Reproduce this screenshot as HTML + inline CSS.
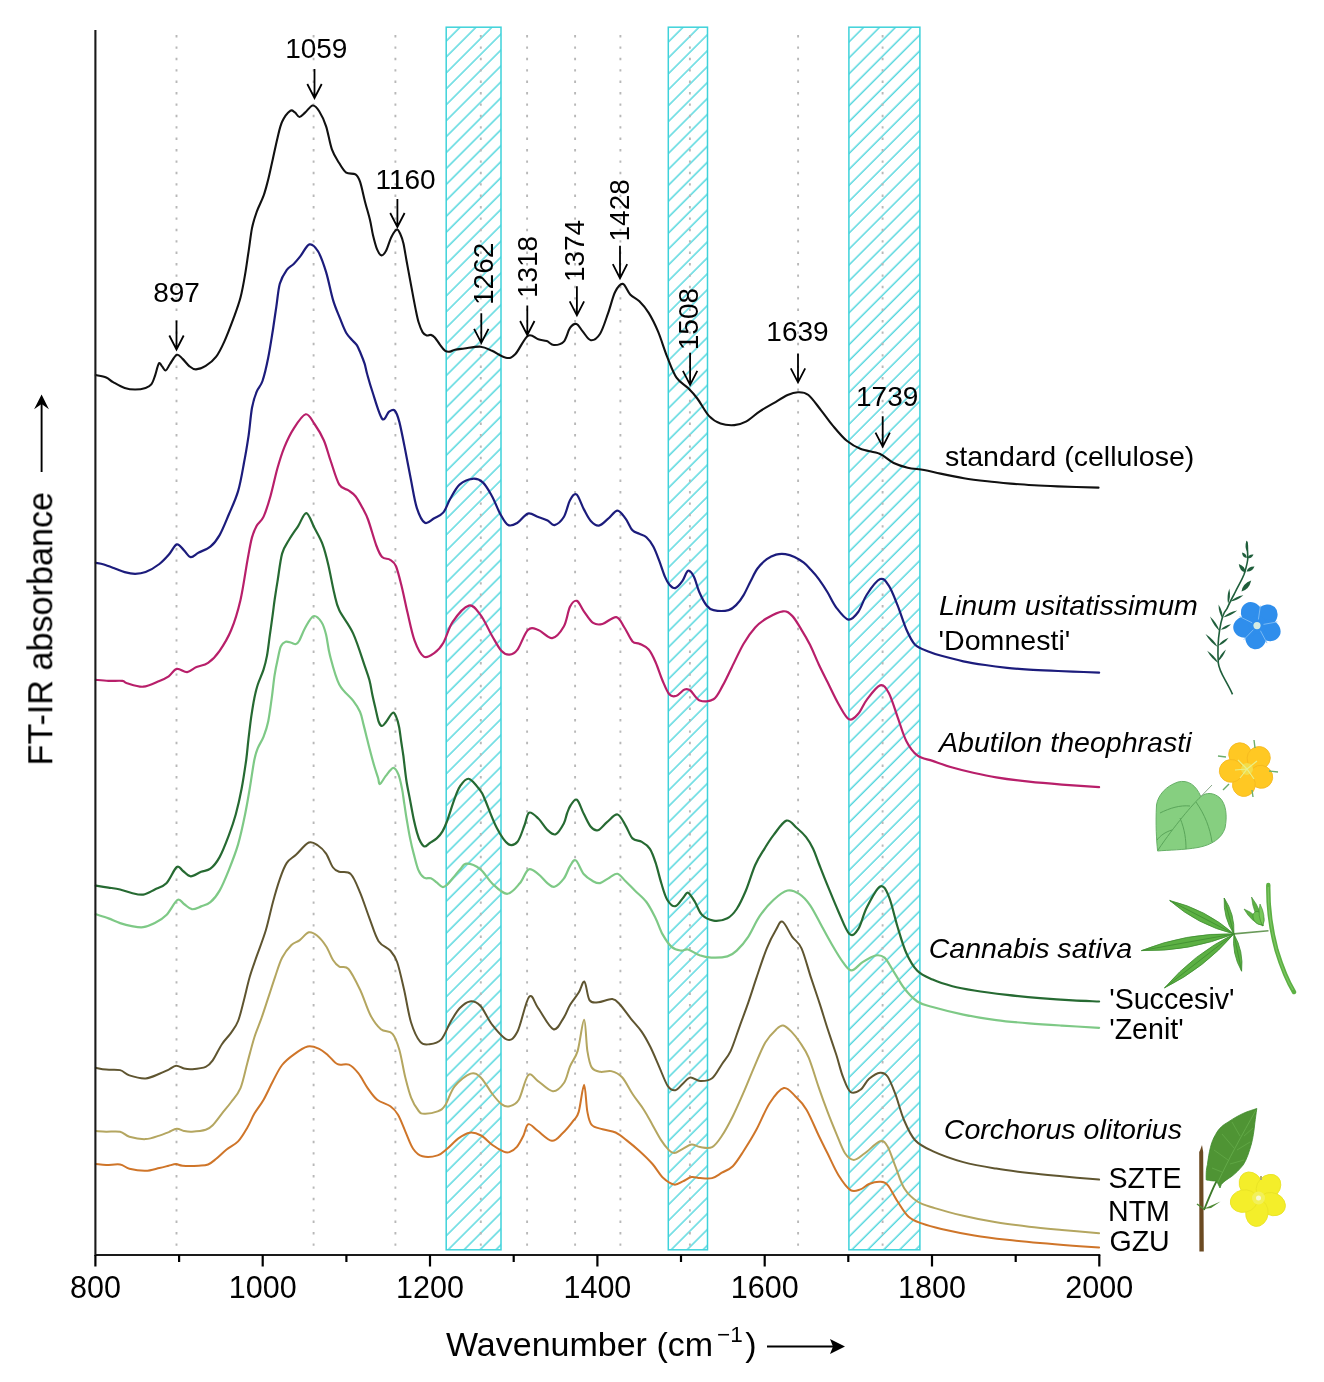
<!DOCTYPE html>
<html><head><meta charset="utf-8"><title>FT-IR spectra</title>
<style>
html,body{margin:0;padding:0;background:#fff;}
body{width:1324px;height:1382px;overflow:hidden;}
svg{display:block;}
text{font-family:"Liberation Sans", sans-serif;}
svg{-webkit-font-smoothing:antialiased;}
.t{opacity:0.999;}
</style></head><body>
<svg width="1324" height="1382" viewBox="0 0 1324 1382">
<defs>
<pattern id="hatch0" patternUnits="userSpaceOnUse" width="11.264" height="20" patternTransform="rotate(45)">
<line x1="6.65" y1="-5" x2="6.65" y2="25" stroke="#3ed2da" stroke-width="1.3"/>
</pattern>
<pattern id="hatch1" patternUnits="userSpaceOnUse" width="11.264" height="20" patternTransform="rotate(45)">
<line x1="6.65" y1="-5" x2="6.65" y2="25" stroke="#3ed2da" stroke-width="1.3"/>
</pattern>
<pattern id="hatch2" patternUnits="userSpaceOnUse" width="11.264" height="20" patternTransform="rotate(45)">
<line x1="10.5" y1="-5" x2="10.5" y2="25" stroke="#3ed2da" stroke-width="1.3"/>
</pattern>
</defs>
<rect width="1324" height="1382" fill="#fff"/>
<rect x="446.2" y="27.2" width="54.8" height="1222.6" fill="url(#hatch0)" stroke="#3ed2da" stroke-width="1.5"/>
<rect x="668.3" y="27.2" width="39.2" height="1222.6" fill="url(#hatch1)" stroke="#3ed2da" stroke-width="1.5"/>
<rect x="848.9" y="27.2" width="71.0" height="1222.6" fill="url(#hatch2)" stroke="#3ed2da" stroke-width="1.5"/>
<line x1="176.5" y1="35" x2="176.5" y2="1250" stroke="#b8b8b8" stroke-width="1.9" stroke-dasharray="2.4 9.0"/>
<line x1="313.6" y1="35" x2="313.6" y2="1250" stroke="#b8b8b8" stroke-width="1.9" stroke-dasharray="2.4 9.0"/>
<line x1="395.4" y1="35" x2="395.4" y2="1250" stroke="#b8b8b8" stroke-width="1.9" stroke-dasharray="2.4 9.0"/>
<line x1="480.8" y1="35" x2="480.8" y2="1250" stroke="#b8b8b8" stroke-width="1.9" stroke-dasharray="2.4 9.0"/>
<line x1="527.1" y1="35" x2="527.1" y2="1250" stroke="#b8b8b8" stroke-width="1.9" stroke-dasharray="2.4 9.0"/>
<line x1="575.1" y1="35" x2="575.1" y2="1250" stroke="#b8b8b8" stroke-width="1.9" stroke-dasharray="2.4 9.0"/>
<line x1="620.4" y1="35" x2="620.4" y2="1250" stroke="#b8b8b8" stroke-width="1.9" stroke-dasharray="2.4 9.0"/>
<line x1="689.9" y1="35" x2="689.9" y2="1250" stroke="#b8b8b8" stroke-width="1.9" stroke-dasharray="2.4 9.0"/>
<line x1="798.1" y1="35" x2="798.1" y2="1250" stroke="#b8b8b8" stroke-width="1.9" stroke-dasharray="2.4 9.0"/>
<line x1="882.6" y1="35" x2="882.6" y2="1250" stroke="#b8b8b8" stroke-width="1.9" stroke-dasharray="2.4 9.0"/>
<path d="M95.8,375.1 C97.5,375.5 103.3,376.3 106.2,377.5 C109.1,378.7 110.0,380.4 113.1,382.1 C116.2,383.8 121.0,386.7 124.7,387.9 C128.4,389.1 131.6,389.5 135.1,389.5 C138.6,389.5 142.9,388.8 145.6,387.9 C148.3,387.0 149.8,386.3 151.3,384.4 C152.8,382.5 153.6,379.8 154.8,376.3 C156.1,372.8 157.6,365.3 158.8,363.6 C160.0,361.9 160.7,364.9 161.8,366.0 C163.0,367.1 164.3,370.8 165.7,370.5 C167.1,370.2 168.2,366.6 170.0,364.0 C171.8,361.4 174.7,355.7 176.8,354.8 C178.9,353.9 180.5,357.0 182.6,358.9 C184.7,360.8 187.3,364.6 189.5,366.3 C191.7,368.1 193.3,369.5 196.0,369.4 C198.7,369.3 202.3,368.0 205.7,365.9 C209.1,363.8 213.1,360.7 216.2,356.6 C219.3,352.6 221.4,348.0 224.3,341.6 C227.2,335.2 230.8,325.7 233.5,318.4 C236.2,311.1 238.6,304.9 240.5,297.6 C242.4,290.3 243.8,282.1 245.1,274.4 C246.4,266.7 247.4,259.0 248.6,251.3 C249.8,243.6 250.7,234.7 252.0,228.1 C253.3,221.5 254.8,217.3 256.7,211.9 C258.6,206.5 261.7,201.1 263.6,195.7 C265.5,190.3 266.6,185.7 268.2,179.5 C269.8,173.3 271.3,165.6 272.9,158.7 C274.4,151.8 276.0,144.1 277.5,137.9 C279.0,131.7 280.0,126.2 282.1,121.7 C284.2,117.2 288.1,112.3 290.2,110.8 C292.3,109.2 293.3,111.4 294.9,112.4 C296.4,113.4 297.8,117.0 299.5,117.0 C301.2,117.0 303.1,114.3 305.3,112.4 C307.5,110.5 310.4,105.7 312.7,105.5 C315.0,105.3 317.0,107.8 319.2,111.3 C321.4,114.8 324.0,119.9 326.1,126.3 C328.2,132.7 329.7,143.2 331.9,149.4 C334.1,155.6 336.9,159.4 339.3,163.3 C341.7,167.2 343.5,170.8 346.2,172.6 C348.9,174.4 353.2,172.8 355.5,174.4 C357.8,176.0 358.6,177.6 360.1,181.9 C361.6,186.2 363.1,194.1 364.7,200.4 C366.3,206.8 368.6,214.2 370.0,220.0 C371.4,225.8 371.8,230.3 373.0,235.2 C374.2,240.1 375.7,246.0 377.1,249.4 C378.5,252.8 380.1,255.2 381.6,255.4 C383.1,255.6 384.6,253.4 386.2,250.4 C387.8,247.4 389.5,240.7 391.3,237.2 C393.1,233.7 395.3,230.1 396.8,229.6 C398.3,229.1 399.3,231.9 400.4,234.2 C401.5,236.5 402.4,238.9 403.4,243.3 C404.4,247.7 405.5,254.9 406.5,260.5 C407.5,266.1 408.5,271.3 409.5,276.7 C410.5,282.1 411.5,287.5 412.5,292.9 C413.5,298.3 414.6,304.2 415.6,309.1 C416.6,314.0 417.4,318.4 418.6,322.3 C419.8,326.2 421.4,330.2 422.7,332.4 C424.0,334.6 425.3,335.0 426.7,335.4 C428.1,335.8 429.4,334.5 430.8,334.9 C432.2,335.2 433.3,335.9 434.8,337.5 C436.3,339.1 438.2,342.4 439.9,344.6 C441.6,346.8 443.2,349.4 444.9,350.6 C446.6,351.8 448.3,351.8 450.0,351.6 C451.7,351.5 452.6,350.2 455.0,349.7 C457.4,349.2 460.1,349.0 464.3,348.5 C468.6,348.0 475.9,346.3 480.5,346.7 C485.1,347.1 487.8,348.9 492.0,350.8 C496.2,352.7 502.0,357.2 505.9,357.8 C509.8,358.4 511.5,358.0 515.2,354.3 C518.9,350.6 524.0,338.3 527.9,335.8 C531.8,333.3 535.1,338.4 538.3,339.3 C541.4,340.2 544.2,340.2 546.8,341.1 C549.4,342.1 551.0,344.9 553.8,345.0 C556.6,345.1 561.1,344.5 563.8,341.6 C566.5,338.8 567.9,330.8 570.0,327.9 C572.1,325.0 574.4,323.4 576.5,324.0 C578.6,324.6 580.3,328.7 582.7,331.4 C585.1,334.1 587.9,339.8 590.8,340.2 C593.7,340.6 597.2,338.2 600.1,333.7 C603.0,329.1 605.7,319.8 608.2,312.9 C610.7,305.9 612.7,296.8 615.1,292.0 C617.5,287.2 620.3,283.5 622.8,283.9 C625.3,284.3 627.4,291.5 630.2,294.4 C633.0,297.3 636.3,298.2 639.4,301.3 C642.5,304.4 645.6,307.9 648.7,312.9 C651.8,317.9 654.9,324.1 658.0,331.4 C661.1,338.7 664.1,349.2 667.2,356.9 C670.3,364.6 673.0,372.5 676.5,377.7 C680.0,382.9 684.6,384.6 688.1,388.1 C691.6,391.6 693.8,393.9 697.3,398.5 C700.8,403.1 705.0,411.7 708.9,415.9 C712.8,420.1 716.2,422.0 720.5,423.5 C724.8,425.0 730.2,425.4 734.4,425.1 C738.6,424.8 741.7,424.0 745.9,421.7 C750.1,419.4 755.2,414.4 759.8,411.3 C764.4,408.2 769.1,405.8 773.7,403.1 C778.3,400.4 783.6,396.8 787.6,395.0 C791.6,393.2 794.5,392.3 798.0,392.3 C801.5,392.3 804.5,392.0 808.4,395.0 C812.2,398.0 817.0,405.2 821.1,410.3 C825.2,415.4 828.5,420.5 832.8,425.6 C837.1,430.7 842.1,436.9 846.8,440.8 C851.5,444.7 855.4,446.9 860.9,449.0 C866.4,451.1 874.1,451.4 879.6,453.7 C885.1,456.0 889.0,460.7 893.7,463.0 C898.4,465.3 902.6,466.5 907.7,467.7 C912.8,468.9 918.6,469.0 924.1,470.0 C929.6,471.0 933.9,472.2 940.5,473.6 C947.1,475.0 956.1,476.9 963.9,478.2 C971.7,479.5 979.5,480.4 987.3,481.3 C995.1,482.2 1002.9,482.9 1010.7,483.6 C1018.5,484.3 1026.3,484.8 1034.1,485.3 C1041.9,485.8 1046.8,486.0 1057.5,486.4 C1068.2,486.8 1091.7,487.4 1098.5,487.6" fill="none" stroke="#111111" stroke-width="2.1" stroke-linejoin="round" stroke-linecap="round"/>
<path d="M95.8,562.9 C97.2,563.2 100.6,563.5 103.9,564.5 C107.2,565.5 112.0,567.4 115.5,568.7 C119.0,570.0 121.4,571.2 124.7,572.1 C128.0,573.0 131.6,573.8 135.1,573.8 C138.6,573.8 141.5,573.7 145.6,572.1 C149.7,570.5 155.6,566.9 159.4,564.0 C163.2,561.1 165.8,558.1 168.7,554.8 C171.6,551.5 174.3,545.2 176.8,544.4 C179.3,543.6 181.5,548.0 183.8,550.1 C186.1,552.2 188.2,556.7 190.7,557.1 C193.2,557.5 195.5,554.2 198.8,552.5 C202.1,550.8 206.9,549.6 210.4,546.7 C213.9,543.8 216.5,540.5 219.6,535.1 C222.7,529.7 225.8,521.6 228.9,514.3 C232.0,507.0 235.6,499.6 238.1,491.1 C240.6,482.6 242.2,472.6 243.9,463.3 C245.7,454.1 247.2,444.9 248.6,435.6 C249.9,426.4 250.7,415.1 252.0,407.8 C253.3,400.5 254.9,396.1 256.7,391.6 C258.4,387.1 260.6,386.6 262.5,381.0 C264.4,375.4 266.5,366.3 268.2,357.8 C269.9,349.3 271.5,338.5 272.9,330.0 C274.2,321.5 275.1,314.6 276.3,306.9 C277.5,299.2 278.1,289.9 279.8,283.7 C281.6,277.5 284.5,273.1 286.8,269.8 C289.1,266.5 291.4,266.3 293.7,264.0 C296.0,261.7 298.0,259.2 300.6,255.9 C303.2,252.6 306.5,245.2 309.4,244.4 C312.3,243.6 315.2,246.7 318.0,251.3 C320.8,255.9 323.6,264.0 326.1,272.1 C328.6,280.2 330.7,292.2 333.0,299.9 C335.3,307.6 337.8,312.9 340.0,318.4 C342.2,323.9 344.1,329.2 346.3,333.0 C348.5,336.8 351.2,338.9 353.0,341.0 C354.8,343.1 355.8,343.4 357.0,345.4 C358.2,347.4 359.2,349.9 360.5,353.0 C361.8,356.1 363.5,360.3 364.6,363.7 C365.7,367.1 365.7,368.9 367.0,373.5 C368.3,378.1 369.7,383.5 372.2,391.0 C374.7,398.5 379.3,415.2 382.1,418.7 C384.9,422.1 386.9,413.0 389.0,411.7 C391.1,410.4 393.1,408.9 394.8,410.6 C396.5,412.3 397.7,415.6 399.4,422.1 C401.1,428.7 403.3,440.2 405.2,449.9 C407.1,459.5 409.1,470.4 411.0,480.0 C412.9,489.6 414.5,500.7 416.8,507.8 C419.1,514.9 422.0,521.1 424.9,522.8 C427.8,524.5 431.1,519.9 434.2,518.2 C437.3,516.5 440.7,515.7 443.4,512.4 C446.1,509.1 447.7,503.1 450.4,498.5 C453.1,493.9 455.9,487.9 459.6,484.6 C463.3,481.3 468.5,479.2 472.4,478.8 C476.3,478.4 479.5,479.4 482.8,482.3 C486.1,485.2 489.1,491.0 492.0,496.2 C494.9,501.4 497.4,508.8 500.1,513.6 C502.8,518.4 505.3,523.6 508.2,525.1 C511.1,526.6 514.2,524.7 517.5,522.8 C520.8,520.9 524.4,514.6 527.9,513.6 C531.4,512.6 535.0,515.9 538.3,517.0 C541.6,518.1 544.9,519.1 547.6,520.5 C550.3,521.9 551.8,525.7 554.5,525.1 C557.2,524.5 561.2,521.1 563.8,517.0 C566.4,512.9 567.9,504.0 570.0,500.2 C572.1,496.4 574.2,492.9 576.5,494.4 C578.8,495.9 581.5,505.0 583.9,509.4 C586.3,513.8 588.3,518.3 590.8,521.0 C593.3,523.7 596.0,526.0 598.9,525.6 C601.8,525.2 605.1,521.2 608.2,518.7 C611.3,516.2 614.6,510.6 617.5,510.6 C620.4,510.6 623.1,515.4 625.6,518.7 C628.1,522.0 630.2,527.8 632.5,530.3 C634.8,532.8 637.1,532.6 639.4,533.8 C641.7,534.9 644.1,535.1 646.4,537.2 C648.7,539.3 651.2,542.6 653.3,546.5 C655.4,550.4 657.2,555.4 659.1,560.4 C661.0,565.4 663.2,572.5 664.9,576.6 C666.6,580.7 667.8,582.8 669.5,584.7 C671.2,586.6 673.2,588.7 675.3,588.1 C677.4,587.5 680.2,584.1 682.3,581.2 C684.4,578.3 686.2,571.6 688.1,570.8 C690.0,570.0 691.9,572.9 693.8,576.6 C695.7,580.3 697.5,588.0 699.6,592.8 C701.7,597.6 704.3,602.6 706.6,605.5 C708.9,608.4 709.8,609.3 713.5,610.1 C717.2,610.9 724.7,611.1 728.6,610.1 C732.5,609.1 734.2,606.9 736.7,604.4 C739.2,601.9 741.3,599.0 743.6,595.1 C745.9,591.2 748.3,585.6 750.6,581.2 C752.9,576.8 754.8,572.2 757.5,568.5 C760.2,564.8 763.7,561.5 766.8,559.2 C769.9,556.9 772.9,555.5 776.0,554.6 C779.1,553.8 782.2,553.7 785.3,554.1 C788.4,554.5 791.4,555.5 794.5,556.9 C797.6,558.3 801.1,560.6 803.8,562.7 C806.5,564.8 808.2,566.9 810.7,569.6 C813.2,572.3 816.0,575.3 818.8,579.1 C821.6,582.9 824.6,587.5 827.5,592.3 C830.4,597.0 832.8,603.0 836.3,607.6 C839.8,612.2 844.6,618.9 848.3,619.6 C851.9,620.3 855.1,616.2 858.2,612.0 C861.3,607.8 863.2,600.0 866.9,594.5 C870.5,589.0 876.5,580.6 880.1,579.1 C883.8,577.6 885.9,581.3 888.8,585.7 C891.7,590.1 894.7,598.1 897.6,605.4 C900.5,612.7 903.5,622.9 906.4,629.5 C909.3,636.1 911.5,641.1 915.1,644.8 C918.8,648.4 923.9,649.6 928.3,651.4 C932.7,653.2 935.6,654.1 941.4,655.8 C947.2,657.4 956.0,659.8 963.3,661.3 C970.6,662.8 977.9,663.9 985.2,665.0 C992.5,666.1 999.8,667.0 1007.1,667.8 C1014.4,668.6 1021.7,669.1 1029.0,669.6 C1036.3,670.1 1043.6,670.4 1050.9,670.7 C1058.2,671.0 1064.8,671.3 1072.8,671.6 C1080.8,671.9 1094.7,672.4 1099.1,672.6" fill="none" stroke="#1c1c7c" stroke-width="2.2" stroke-linejoin="round" stroke-linecap="round"/>
<path d="M95.8,679.8 C97.9,680.0 104.1,680.7 108.5,680.9 C112.9,681.1 119.3,680.5 122.4,680.9 C125.5,681.3 123.5,682.2 127.0,683.2 C130.5,684.2 137.8,687.1 143.2,686.7 C148.6,686.3 155.2,682.6 159.4,680.9 C163.7,679.2 165.8,678.3 168.7,676.3 C171.6,674.3 173.7,669.6 176.8,668.9 C179.9,668.2 183.9,672.4 187.2,672.1 C190.5,671.8 193.0,668.5 196.5,667.0 C200.0,665.5 204.2,665.6 208.1,662.9 C211.9,660.2 215.8,656.3 219.6,650.8 C223.4,645.3 227.7,638.5 231.2,630.0 C234.7,621.5 237.8,611.5 240.5,599.9 C243.2,588.3 245.5,571.0 247.4,560.6 C249.3,550.2 250.4,543.2 252.0,537.4 C253.6,531.6 254.8,529.3 256.7,525.8 C258.6,522.3 261.3,521.6 263.6,516.6 C265.9,511.6 268.3,503.8 270.6,495.7 C272.9,487.6 275.2,476.1 277.5,468.0 C279.8,459.9 281.7,453.7 284.4,447.1 C287.1,440.5 290.1,434.1 293.7,428.6 C297.2,423.1 302.2,415.1 305.7,414.3 C309.2,413.5 311.5,419.7 314.5,424.0 C317.5,428.3 321.1,434.0 323.8,440.2 C326.5,446.4 328.1,453.6 330.7,461.0 C333.3,468.4 336.3,479.7 339.3,484.6 C342.3,489.5 345.8,488.5 348.5,490.4 C351.2,492.3 353.2,493.3 355.5,496.2 C357.8,499.1 360.3,503.8 362.4,507.8 C364.5,511.8 365.9,513.7 368.2,520.0 C370.5,526.3 374.0,539.3 376.3,545.5 C378.6,551.7 379.8,554.6 382.1,557.0 C384.4,559.4 387.9,558.2 390.2,559.8 C392.5,561.3 394.1,561.8 396.0,566.3 C397.9,570.8 399.9,579.4 401.8,587.1 C403.7,594.8 405.4,603.7 407.5,612.6 C409.6,621.5 411.8,633.1 414.5,640.4 C417.2,647.7 420.5,654.5 423.8,656.6 C427.1,658.7 430.9,655.4 434.2,653.1 C437.5,650.8 440.3,647.9 443.4,642.7 C446.5,637.5 448.4,628.1 452.7,621.9 C456.9,615.7 464.3,606.8 468.9,605.6 C473.5,604.4 476.6,609.9 480.5,614.9 C484.4,619.9 488.5,629.7 492.0,635.7 C495.5,641.7 498.4,647.6 501.3,650.8 C504.2,654.0 506.7,654.9 509.4,654.7 C512.1,654.5 514.4,653.7 517.5,649.6 C520.6,645.5 524.4,633.3 527.9,630.0 C531.4,626.7 534.2,628.6 538.3,630.0 C542.3,631.4 548.0,638.7 552.2,638.1 C556.5,637.5 560.8,631.7 563.8,626.5 C566.8,621.3 567.8,611.0 570.0,606.7 C572.2,602.4 574.6,600.1 576.9,600.9 C579.2,601.7 581.2,607.6 583.9,611.3 C586.6,615.0 590.0,620.8 593.1,622.9 C596.2,625.0 598.5,625.0 602.4,624.0 C606.3,623.0 612.6,616.5 616.3,617.1 C620.0,617.7 621.7,623.5 624.4,627.5 C627.1,631.5 630.0,638.7 632.5,641.4 C635.0,644.1 636.7,642.4 639.4,643.7 C642.1,645.1 646.0,646.4 648.7,649.5 C651.4,652.6 653.3,657.0 655.6,662.2 C657.9,667.4 660.3,675.3 662.6,680.7 C664.9,686.1 667.2,692.1 669.5,694.6 C671.8,697.1 674.0,696.6 676.5,695.8 C679.0,694.9 682.3,690.4 684.6,689.5 C686.9,688.6 687.9,688.7 690.4,690.5 C692.9,692.3 695.8,698.9 699.6,700.4 C703.5,701.9 709.6,701.8 713.5,699.3 C717.4,696.8 719.7,690.8 722.8,685.4 C725.9,680.0 728.5,673.8 732.0,666.9 C735.5,660.0 739.7,650.3 743.6,643.7 C747.5,637.1 751.3,631.8 755.2,627.5 C759.1,623.2 762.2,620.9 766.8,618.2 C771.4,615.5 778.8,611.7 783.0,611.3 C787.2,610.9 789.1,612.8 792.2,615.9 C795.3,619.0 798.5,625.0 801.5,629.8 C804.5,634.6 807.1,639.0 810.0,644.8 C812.9,650.6 815.9,658.3 818.8,664.5 C821.7,670.7 824.2,675.5 827.5,682.1 C830.8,688.7 834.9,697.8 838.5,704.0 C842.1,710.2 845.7,717.7 849.0,719.3 C852.3,720.9 855.2,717.1 858.2,713.8 C861.2,710.5 863.2,704.3 866.9,699.6 C870.5,694.9 876.5,686.5 880.1,685.4 C883.8,684.3 885.9,687.7 888.8,693.0 C891.7,698.3 894.7,709.1 897.6,717.1 C900.5,725.1 903.1,734.8 906.4,741.2 C909.7,747.6 912.9,752.1 917.3,755.4 C921.7,758.7 926.8,758.9 932.6,760.9 C938.5,762.9 945.5,765.5 952.4,767.5 C959.3,769.5 967.0,771.4 974.3,773.0 C981.6,774.6 987.1,775.8 996.2,777.3 C1005.3,778.8 1018.0,780.5 1029.0,781.7 C1040.0,782.9 1050.2,783.7 1061.9,784.6 C1073.6,785.5 1092.9,786.8 1099.1,787.2" fill="none" stroke="#b81f6a" stroke-width="2.2" stroke-linejoin="round" stroke-linecap="round"/>
<path d="M95.8,885.6 C97.9,885.9 104.5,887.0 108.5,887.6 C112.5,888.2 116.2,888.6 120.1,889.5 C124.0,890.4 127.8,892.1 131.7,893.0 C135.5,893.9 139.3,895.2 143.2,894.6 C147.0,894.0 150.9,891.4 154.8,889.5 C158.7,887.6 162.7,887.0 166.4,883.2 C170.1,879.5 174.0,869.0 176.8,867.0 C179.6,865.0 180.7,869.5 183.0,871.0 C185.3,872.5 187.7,876.2 190.7,876.3 C193.7,876.4 197.8,873.0 201.1,871.7 C204.4,870.4 207.3,871.1 210.4,868.7 C213.5,866.3 216.5,862.7 219.6,857.1 C222.7,851.5 226.2,842.2 228.9,835.1 C231.6,828.0 233.7,822.0 235.8,814.3 C237.9,806.6 239.9,797.8 241.6,788.8 C243.3,779.8 245.0,768.3 246.2,760.0 C247.3,751.7 247.6,746.3 248.5,738.9 C249.4,731.5 250.4,722.5 251.4,715.7 C252.4,709.0 253.2,703.6 254.3,698.4 C255.4,693.2 256.2,689.3 257.8,684.5 C259.4,679.7 262.1,674.2 263.6,669.4 C265.1,664.6 265.9,661.4 267.0,655.6 C268.1,649.8 268.9,641.7 269.9,634.7 C270.9,627.8 272.0,619.7 272.8,613.9 C273.6,608.1 273.8,605.4 274.6,600.0 C275.4,594.6 276.2,589.1 277.5,581.4 C278.8,573.7 280.2,560.5 282.1,553.6 C284.0,546.7 286.4,544.3 289.1,539.7 C291.8,535.1 295.4,530.2 298.3,525.8 C301.2,521.4 303.7,512.7 306.4,513.1 C309.1,513.5 311.8,522.9 314.5,528.1 C317.2,533.3 320.3,538.2 322.6,544.4 C324.9,550.6 326.5,557.1 328.4,565.2 C330.3,573.3 332.4,585.5 334.2,593.0 C336.0,600.5 336.1,603.6 339.3,610.3 C342.5,617.0 348.9,624.1 353.1,633.4 C357.3,642.6 362.0,658.0 364.7,665.8 C367.4,673.6 368.1,675.2 369.4,680.0 C370.7,684.8 371.3,689.7 372.3,694.5 C373.3,699.3 374.5,704.3 375.6,708.9 C376.7,713.5 377.7,719.1 378.8,722.0 C379.9,724.9 380.9,726.0 382.1,726.0 C383.3,726.0 384.2,724.2 386.0,722.0 C387.8,719.8 390.9,713.8 392.6,712.9 C394.3,712.0 395.1,714.5 396.2,716.9 C397.3,719.2 398.3,722.9 399.1,727.0 C399.9,731.1 400.5,736.7 401.2,741.5 C401.9,746.3 402.5,749.6 403.4,756.0 C404.2,762.4 405.2,772.6 406.3,780.0 C407.4,787.4 408.9,793.8 410.1,800.2 C411.3,806.7 412.5,813.3 413.6,818.7 C414.8,824.1 415.9,828.7 417.0,832.6 C418.1,836.5 419.2,839.6 420.5,841.9 C421.8,844.2 423.1,846.3 424.6,846.5 C426.2,846.7 427.8,844.4 429.8,843.0 C431.8,841.6 434.6,840.3 436.7,838.4 C438.8,836.5 440.8,834.3 442.5,831.4 C444.2,828.5 445.2,826.2 447.1,821.0 C449.0,815.8 452.0,806.0 454.1,800.2 C456.2,794.4 457.5,789.9 460.0,786.3 C462.5,782.7 465.5,778.0 468.9,778.8 C472.3,779.5 477.8,787.3 480.5,790.8 C483.2,794.3 482.4,793.8 485.1,800.0 C487.8,806.2 492.9,820.5 496.7,827.8 C500.5,835.1 504.7,841.7 508.2,844.0 C511.7,846.3 514.8,844.8 517.5,841.7 C520.2,838.6 522.5,830.3 524.4,825.5 C526.3,820.7 526.8,813.9 529.1,812.7 C531.4,811.5 535.2,815.6 538.3,818.5 C541.4,821.4 544.7,827.5 547.6,830.1 C550.5,832.7 553.0,835.4 555.7,834.3 C558.4,833.2 561.9,827.0 563.8,823.5 C565.7,820.0 565.9,816.5 567.0,813.5 C568.1,810.5 568.9,807.8 570.5,805.5 C572.1,803.2 574.7,798.3 576.9,799.7 C579.1,801.1 581.6,809.6 583.9,814.1 C586.2,818.6 588.5,824.1 590.8,826.8 C593.1,829.5 595.1,831.1 597.8,830.3 C600.5,829.5 603.7,824.8 607.0,822.2 C610.3,819.6 614.4,813.9 617.5,814.5 C620.6,815.1 623.1,821.6 625.6,825.6 C628.1,829.6 629.8,835.7 632.5,838.4 C635.2,841.1 638.9,840.2 641.8,841.9 C644.7,843.6 647.6,845.3 649.9,848.8 C652.2,852.3 653.7,856.9 655.6,862.7 C657.5,868.5 659.5,877.3 661.4,883.5 C663.3,889.7 664.9,895.9 667.2,899.7 C669.5,903.5 672.6,906.6 675.3,906.2 C678.0,905.8 681.3,899.6 683.4,897.4 C685.5,895.2 686.2,892.0 688.1,892.8 C690.0,893.6 692.7,898.3 695.0,902.0 C697.3,905.7 698.8,911.7 701.9,914.8 C705.0,917.9 709.2,920.0 713.5,920.6 C717.8,921.2 723.5,920.1 727.4,918.2 C731.3,916.3 733.6,913.6 736.7,909.0 C739.8,904.4 742.8,897.8 745.9,890.5 C749.0,883.2 752.1,872.0 755.2,865.0 C758.3,858.0 761.3,853.8 764.4,848.8 C767.5,843.8 770.0,839.6 773.7,834.9 C777.4,830.2 782.5,821.8 786.4,820.6 C790.3,819.5 793.6,825.2 796.9,828.0 C800.2,830.8 803.4,833.7 806.1,837.2 C808.8,840.7 811.0,844.4 813.1,848.8 C815.2,853.2 816.4,857.4 818.8,863.5 C821.2,869.6 824.2,877.4 827.5,885.4 C830.8,893.4 834.9,903.6 838.5,911.7 C842.1,919.8 846.1,931.1 849.4,934.0 C852.7,936.9 855.3,933.7 858.2,929.2 C861.1,924.8 863.2,914.4 866.9,907.3 C870.5,900.2 876.5,888.3 880.1,886.5 C883.8,884.7 885.9,889.6 888.8,896.4 C891.7,903.1 894.7,917.5 897.6,927.0 C900.5,936.5 903.1,946.0 906.4,953.3 C909.7,960.6 912.9,966.4 917.3,970.8 C921.7,975.2 926.8,977.0 932.6,979.6 C938.5,982.2 945.5,984.4 952.4,986.2 C959.3,988.0 965.2,989.0 974.3,990.5 C983.4,992.0 996.1,993.6 1007.1,994.9 C1018.1,996.2 1029.0,997.3 1040.0,998.2 C1051.0,999.1 1063.0,999.9 1072.8,1000.4 C1082.6,1000.9 1094.7,1001.3 1099.1,1001.5" fill="none" stroke="#266a32" stroke-width="2.2" stroke-linejoin="round" stroke-linecap="round"/>
<path d="M95.8,914.3 C97.9,915.0 104.5,916.9 108.5,918.4 C112.5,919.9 116.2,921.8 120.1,923.1 C124.0,924.4 127.8,925.4 131.7,926.1 C135.5,926.8 139.3,927.7 143.2,927.2 C147.0,926.7 150.9,925.1 154.8,923.1 C158.7,921.1 162.6,918.9 166.4,915.0 C170.2,911.1 174.6,901.7 177.5,899.9 C180.4,898.1 181.6,902.5 184.0,904.0 C186.4,905.5 189.1,908.8 191.9,909.2 C194.8,909.6 198.0,907.6 201.1,906.4 C204.2,905.2 207.3,904.8 210.4,902.2 C213.5,899.6 216.5,896.0 219.6,890.6 C222.7,885.2 225.8,877.5 228.9,869.8 C232.0,862.1 235.4,853.6 238.1,844.4 C240.8,835.1 243.2,823.6 245.1,814.3 C247.0,805.0 248.2,797.8 249.7,788.8 C251.2,779.8 253.0,766.8 254.3,760.0 C255.7,753.2 256.2,752.0 257.8,748.1 C259.4,744.2 261.9,741.0 263.6,736.6 C265.3,732.2 266.9,727.9 268.2,721.5 C269.5,715.1 270.6,706.1 271.7,698.4 C272.8,690.7 273.6,681.6 274.6,675.2 C275.6,668.8 276.4,665.0 277.5,660.2 C278.6,655.4 279.5,649.4 280.9,646.3 C282.2,643.2 283.9,642.3 285.6,641.7 C287.3,641.1 289.6,642.4 291.3,642.8 C293.0,643.2 294.6,644.4 296.0,644.0 C297.4,643.6 297.9,643.2 299.4,640.5 C300.9,637.8 302.9,631.8 305.2,627.8 C307.5,623.8 310.6,617.2 313.3,616.2 C316.0,615.2 319.3,618.9 321.4,622.0 C323.5,625.1 324.7,629.1 326.1,634.7 C327.5,640.3 327.8,647.3 330.0,655.6 C332.2,663.9 335.4,676.9 339.3,684.4 C343.2,691.9 349.7,696.0 353.1,700.6 C356.6,705.2 358.2,707.8 360.0,711.8 C361.8,715.8 362.4,720.3 363.6,724.9 C364.8,729.5 366.0,734.5 367.2,739.3 C368.4,744.1 369.7,749.2 370.9,753.8 C372.1,758.4 373.3,762.8 374.5,766.8 C375.7,770.8 377.2,775.1 378.1,778.0 C379.0,780.9 378.7,784.4 380.0,784.0 C381.3,783.6 383.6,778.6 385.8,775.9 C388.0,773.2 391.2,768.0 393.3,767.8 C395.4,767.6 397.1,771.2 398.5,774.7 C399.9,778.2 401.0,783.8 402.0,788.6 C403.0,793.4 403.5,798.7 404.3,803.7 C405.1,808.7 405.6,812.9 406.6,818.7 C407.6,824.5 408.9,832.6 410.1,838.4 C411.3,844.2 412.2,848.2 413.6,853.4 C415.0,858.6 416.5,865.5 418.2,869.6 C419.9,873.7 421.9,876.2 424.0,877.7 C426.1,879.2 428.8,877.5 430.9,878.3 C433.0,879.1 434.8,880.9 436.7,882.4 C438.6,883.9 440.8,886.6 442.5,887.0 C444.2,887.4 445.2,886.4 447.1,884.7 C449.0,883.0 452.0,879.1 454.1,876.6 C456.2,874.1 457.9,871.8 460.0,869.6 C462.1,867.5 463.2,863.7 466.6,863.7 C470.0,863.7 476.3,866.1 480.5,869.4 C484.7,872.7 487.6,879.2 492.0,883.3 C496.4,887.4 502.5,893.8 507.1,893.8 C511.7,893.8 516.2,887.4 519.8,883.3 C523.4,879.2 525.5,870.9 528.6,869.4 C531.7,867.9 535.1,871.8 538.3,874.1 C541.5,876.4 544.9,881.2 547.6,883.3 C550.3,885.4 551.8,887.6 554.5,886.8 C557.2,886.0 561.2,882.1 563.8,878.7 C566.4,875.3 568.0,869.2 570.0,866.2 C572.0,863.2 573.5,859.0 575.8,860.4 C578.1,861.8 581.0,870.8 583.9,874.3 C586.8,877.8 590.4,879.7 593.1,881.2 C595.8,882.7 597.4,883.7 600.1,883.1 C602.8,882.5 606.5,879.2 609.4,877.7 C612.3,876.2 614.8,873.2 617.5,873.8 C620.2,874.4 622.7,878.4 625.6,881.2 C628.5,884.0 631.3,887.0 634.8,890.5 C638.3,894.0 642.9,897.4 646.4,902.0 C649.9,906.6 652.9,912.8 655.6,918.2 C658.3,923.6 659.9,929.6 662.6,934.4 C665.3,939.2 668.8,944.5 671.9,947.2 C675.0,949.9 678.4,950.2 681.1,950.6 C683.8,951.0 685.0,948.7 688.1,949.5 C691.2,950.3 695.8,953.9 699.6,955.3 C703.5,956.6 706.6,957.4 711.2,957.6 C715.8,957.8 723.1,957.6 727.4,956.4 C731.6,955.2 733.2,953.9 736.7,950.6 C740.2,947.3 744.4,942.6 748.2,936.8 C752.1,931.0 755.5,922.1 759.8,915.9 C764.0,909.7 769.1,903.9 773.7,899.7 C778.3,895.5 783.4,891.5 787.6,890.5 C791.9,889.5 795.5,891.5 799.2,893.9 C802.9,896.3 806.4,900.0 810.0,905.1 C813.6,910.2 817.4,918.2 821.0,924.8 C824.6,931.4 828.2,938.3 831.9,944.5 C835.5,950.7 839.6,957.8 842.9,962.1 C846.2,966.4 848.3,970.4 851.6,970.4 C854.9,970.4 858.6,964.6 862.6,962.1 C866.6,959.6 872.1,956.2 875.7,955.5 C879.4,954.8 881.6,955.2 884.5,957.7 C887.4,960.2 889.9,965.7 893.2,970.8 C896.5,975.9 900.2,983.2 904.2,988.3 C908.2,993.4 912.6,998.4 917.3,1001.5 C922.0,1004.6 924.9,1004.8 932.6,1007.0 C940.3,1009.2 952.7,1012.4 963.3,1014.6 C973.9,1016.8 985.2,1018.6 996.2,1020.1 C1007.2,1021.6 1018.0,1022.5 1029.0,1023.4 C1040.0,1024.3 1050.2,1024.9 1061.9,1025.6 C1073.6,1026.3 1092.9,1027.4 1099.1,1027.8" fill="none" stroke="#7ec986" stroke-width="2.2" stroke-linejoin="round" stroke-linecap="round"/>
<path d="M95.8,1067.8 C97.5,1068.1 102.2,1069.2 106.2,1069.6 C110.2,1070.0 116.2,1069.1 120.1,1070.1 C124.0,1071.1 125.2,1074.0 129.4,1075.4 C133.7,1076.8 140.6,1078.7 145.6,1078.4 C150.6,1078.1 155.6,1075.3 159.4,1073.8 C163.2,1072.3 165.9,1070.9 168.7,1069.6 C171.5,1068.2 173.5,1065.9 176.1,1065.7 C178.7,1065.5 181.4,1067.9 184.0,1068.5 C186.6,1069.1 188.3,1069.5 191.9,1069.2 C195.5,1068.9 202.2,1068.4 205.7,1066.9 C209.2,1065.4 210.0,1064.2 212.7,1060.4 C215.4,1056.6 218.8,1048.8 221.9,1044.2 C225.0,1039.6 228.5,1036.5 231.2,1032.6 C233.9,1028.7 236.0,1026.4 238.1,1021.0 C240.2,1015.6 242.0,1007.5 243.9,1000.2 C245.8,992.9 247.6,984.3 249.7,977.0 C251.8,969.7 254.0,964.0 256.7,956.2 C259.4,948.4 263.2,939.0 265.9,930.0 C268.6,921.0 270.6,910.7 272.9,902.2 C275.2,893.7 277.5,885.7 279.8,879.1 C282.1,872.5 284.1,867.0 286.8,862.9 C289.5,858.8 292.3,858.2 296.0,854.8 C299.7,851.4 305.1,844.0 308.8,842.5 C312.5,841.0 315.1,843.6 318.0,845.5 C320.9,847.4 323.6,849.9 326.1,853.6 C328.6,857.3 330.8,864.5 333.0,867.5 C335.2,870.5 336.3,870.7 339.3,871.8 C342.3,872.9 347.3,870.6 350.8,874.1 C354.3,877.6 357.0,885.3 360.1,892.6 C363.2,899.9 366.3,910.0 369.4,918.1 C372.5,926.2 375.1,935.8 378.6,941.2 C382.1,946.6 387.1,947.0 390.2,950.5 C393.3,954.0 394.8,955.5 397.1,962.0 C399.4,968.5 401.8,979.8 404.1,989.8 C406.4,999.8 408.3,1013.5 411.0,1022.2 C413.7,1030.9 417.2,1038.2 420.3,1041.9 C423.4,1045.6 426.0,1044.6 429.5,1044.2 C433.0,1043.8 437.6,1043.3 441.1,1039.6 C444.6,1035.9 447.3,1027.4 450.4,1022.2 C453.5,1017.0 456.3,1011.8 459.6,1008.3 C462.9,1004.8 466.5,1001.8 470.0,1001.4 C473.5,1001.0 476.8,1002.1 480.5,1006.0 C484.2,1009.9 487.6,1018.9 492.0,1024.5 C496.4,1030.1 502.9,1038.4 507.1,1039.6 C511.4,1040.8 513.8,1038.6 517.5,1031.5 C521.2,1024.4 525.6,1000.7 529.1,996.8 C532.6,992.9 534.2,1002.9 538.3,1008.3 C542.3,1013.7 549.1,1027.7 553.4,1029.2 C557.6,1030.8 561.0,1021.6 563.8,1017.6 C566.6,1013.6 567.5,1009.2 570.0,1005.0 C572.5,1000.8 576.3,996.5 578.7,992.6 C581.1,988.7 582.7,980.5 584.5,981.7 C586.3,983.0 587.2,996.7 589.5,1000.1 C591.8,1003.5 594.4,1002.5 598.2,1002.3 C602.0,1002.1 608.7,998.7 612.3,999.1 C615.9,999.5 616.8,1001.2 619.9,1004.5 C623.0,1007.8 627.2,1014.1 630.8,1018.6 C634.4,1023.1 638.4,1026.9 641.6,1031.6 C644.9,1036.3 647.4,1041.0 650.3,1046.8 C653.2,1052.6 656.1,1059.8 659.0,1066.3 C661.9,1072.8 665.0,1081.9 667.7,1085.9 C670.4,1089.9 672.8,1090.6 675.3,1090.2 C677.8,1089.8 680.3,1085.8 682.8,1083.7 C685.3,1081.6 687.5,1078.0 690.4,1077.6 C693.3,1077.2 696.6,1081.0 700.2,1081.1 C703.8,1081.2 708.5,1081.1 712.1,1078.3 C715.7,1075.5 718.8,1068.7 721.9,1064.2 C725.0,1059.7 727.7,1057.2 730.6,1051.1 C733.5,1044.9 736.4,1035.2 739.3,1027.3 C742.2,1019.3 745.1,1011.7 748.0,1003.4 C750.9,995.1 753.5,986.6 756.6,977.4 C759.7,968.2 763.6,956.2 766.8,948.3 C770.0,940.4 773.4,934.2 776.0,929.8 C778.6,925.4 779.8,920.5 782.5,921.7 C785.2,922.9 789.0,932.4 792.2,936.8 C795.4,941.2 798.4,941.5 801.5,948.3 C804.6,955.1 807.9,968.2 810.9,977.4 C813.9,986.6 816.8,994.9 819.6,1003.4 C822.4,1011.9 824.7,1019.9 827.5,1028.5 C830.3,1037.1 833.7,1046.8 836.3,1054.8 C838.9,1062.8 840.5,1070.5 842.9,1076.7 C845.3,1082.9 847.6,1089.8 850.5,1092.0 C853.4,1094.2 857.3,1092.0 860.4,1089.8 C863.5,1087.6 865.8,1081.6 869.1,1078.8 C872.4,1076.0 877.0,1073.0 880.1,1072.7 C883.2,1072.4 885.2,1073.1 887.7,1076.7 C890.2,1080.3 892.6,1086.9 895.4,1094.2 C898.1,1101.5 900.9,1112.8 904.2,1120.5 C907.5,1128.2 910.4,1135.1 915.1,1140.2 C919.8,1145.3 924.6,1147.4 932.6,1151.1 C940.6,1154.8 952.7,1159.2 963.3,1162.1 C973.9,1165.0 985.2,1166.8 996.2,1168.6 C1007.2,1170.4 1018.0,1171.7 1029.0,1173.0 C1040.0,1174.3 1050.2,1175.2 1061.9,1176.3 C1073.6,1177.4 1092.9,1179.0 1099.1,1179.6" fill="none" stroke="#5f5530" stroke-width="2.0" stroke-linejoin="round" stroke-linecap="round"/>
<path d="M95.8,1131.0 C97.5,1131.1 102.2,1131.6 106.2,1131.7 C110.2,1131.8 116.2,1130.9 120.1,1131.7 C124.0,1132.5 125.2,1135.6 129.4,1136.8 C133.7,1138.0 140.6,1139.3 145.6,1139.1 C150.6,1138.9 155.6,1136.8 159.4,1135.6 C163.2,1134.4 165.8,1133.2 168.7,1132.1 C171.6,1130.9 174.2,1128.9 176.8,1128.7 C179.4,1128.5 181.5,1130.5 184.0,1131.0 C186.5,1131.5 188.3,1131.9 191.9,1131.7 C195.5,1131.5 202.2,1130.9 205.7,1129.8 C209.2,1128.7 210.0,1127.9 212.7,1125.2 C215.4,1122.5 218.8,1117.5 221.9,1113.6 C225.0,1109.7 228.1,1106.2 231.2,1102.0 C234.3,1097.8 237.8,1094.6 240.5,1088.1 C243.2,1081.5 245.1,1071.2 247.4,1062.7 C249.7,1054.2 252.1,1044.5 254.4,1037.2 C256.7,1029.9 259.0,1025.2 261.3,1018.7 C263.6,1012.2 265.9,1004.9 268.2,997.9 C270.5,990.9 272.9,983.3 275.2,976.6 C277.5,969.9 279.4,963.1 282.1,957.8 C284.8,952.5 288.5,947.9 291.4,945.0 C294.3,942.1 296.6,942.5 299.5,940.4 C302.4,938.3 305.9,933.1 308.8,932.3 C311.7,931.5 314.1,933.2 317.0,935.5 C319.9,937.8 323.4,942.1 326.1,946.2 C328.8,950.3 330.8,956.6 333.0,960.0 C335.2,963.4 336.7,965.2 339.3,966.7 C341.9,968.2 345.0,965.1 348.5,969.0 C352.0,972.9 356.4,982.1 360.1,989.8 C363.8,997.5 367.0,1008.7 370.5,1015.3 C374.0,1021.9 377.2,1026.1 380.9,1029.2 C384.6,1032.3 389.4,1030.3 392.5,1033.8 C395.6,1037.3 397.3,1042.8 399.4,1050.0 C401.5,1057.2 403.2,1069.0 405.2,1077.0 C407.2,1085.0 408.9,1092.1 411.2,1097.8 C413.4,1103.5 416.5,1108.3 418.7,1111.0 C420.9,1113.7 421.2,1113.7 424.4,1113.8 C427.5,1113.9 434.1,1112.8 437.6,1111.4 C441.1,1110.0 442.4,1109.5 445.2,1105.3 C448.0,1101.1 450.4,1091.7 454.6,1086.4 C458.9,1081.1 466.3,1075.0 470.7,1073.6 C475.1,1072.2 477.5,1074.5 481.1,1077.9 C484.7,1081.3 488.9,1089.6 492.4,1094.0 C495.8,1098.4 499.0,1102.4 501.8,1104.4 C504.6,1106.5 506.6,1107.1 509.4,1106.3 C512.2,1105.5 515.6,1104.9 518.8,1099.7 C521.9,1094.5 525.1,1078.2 528.3,1075.1 C531.4,1071.9 533.6,1078.1 537.7,1080.8 C541.8,1083.5 548.4,1090.9 552.8,1091.2 C557.2,1091.5 561.2,1086.9 564.1,1082.7 C567.0,1078.5 567.8,1071.6 570.0,1066.3 C572.2,1061.0 575.2,1058.9 577.6,1051.1 C580.0,1043.3 582.5,1019.7 584.1,1019.7 C585.7,1019.7 586.1,1043.1 587.4,1051.1 C588.7,1059.0 589.5,1064.0 591.7,1067.4 C593.9,1070.9 597.1,1071.2 600.4,1071.8 C603.6,1072.4 607.6,1070.2 611.2,1071.1 C614.8,1072.0 618.5,1073.3 622.1,1077.2 C625.7,1081.1 629.3,1089.1 632.9,1094.5 C636.5,1099.9 640.5,1104.6 643.8,1109.7 C647.1,1114.8 649.6,1119.8 652.5,1124.9 C655.4,1130.0 658.4,1135.9 661.1,1140.1 C663.8,1144.3 666.5,1147.7 668.7,1149.9 C670.9,1152.1 671.9,1153.3 674.2,1153.1 C676.6,1152.9 679.9,1150.2 682.8,1148.8 C685.7,1147.4 688.6,1144.8 691.5,1144.5 C694.4,1144.2 696.8,1146.7 700.2,1147.1 C703.6,1147.5 708.5,1149.0 712.1,1147.1 C715.7,1145.2 718.5,1140.9 721.9,1135.8 C725.3,1130.7 729.2,1123.4 732.8,1116.2 C736.4,1109.0 740.0,1100.7 743.6,1092.4 C747.2,1084.1 750.9,1074.6 754.5,1066.3 C758.1,1058.0 761.7,1048.7 765.3,1042.5 C768.9,1036.3 773.2,1032.2 776.2,1029.4 C779.2,1026.6 780.6,1025.1 783.1,1025.5 C785.6,1025.9 788.6,1028.8 791.4,1031.6 C794.2,1034.4 797.1,1038.2 800.0,1042.5 C802.9,1046.8 805.6,1050.2 808.7,1057.7 C811.8,1065.2 815.7,1078.6 818.8,1087.6 C821.9,1096.6 824.6,1104.0 827.5,1111.7 C830.4,1119.4 833.4,1126.7 836.3,1133.6 C839.2,1140.5 842.1,1148.9 845.0,1153.3 C847.9,1157.7 850.5,1159.9 853.8,1159.9 C857.1,1159.9 860.4,1156.4 864.8,1153.3 C869.2,1150.2 876.3,1142.4 880.1,1141.3 C883.9,1140.2 885.2,1142.5 887.7,1146.7 C890.2,1150.9 892.6,1159.5 895.4,1166.4 C898.1,1173.3 900.6,1182.5 904.2,1188.3 C907.9,1194.1 912.2,1198.2 917.3,1201.5 C922.4,1204.8 927.1,1205.7 934.8,1208.1 C942.5,1210.5 953.1,1213.3 963.3,1215.7 C973.5,1218.1 985.2,1220.5 996.2,1222.3 C1007.2,1224.1 1018.0,1225.4 1029.0,1226.7 C1040.0,1228.0 1050.2,1228.9 1061.9,1230.0 C1073.6,1231.1 1092.9,1232.7 1099.1,1233.2" fill="none" stroke="#b4a660" stroke-width="2.0" stroke-linejoin="round" stroke-linecap="round"/>
<path d="M95.8,1164.1 C97.5,1164.2 102.2,1164.9 106.2,1165.0 C110.2,1165.1 116.2,1163.9 120.1,1164.5 C124.0,1165.1 125.2,1167.7 129.4,1168.7 C133.7,1169.8 140.6,1170.9 145.6,1170.8 C150.6,1170.7 155.6,1168.8 159.4,1168.0 C163.2,1167.2 165.9,1166.4 168.7,1165.7 C171.5,1165.0 173.8,1164.1 176.1,1164.1 C178.4,1164.1 178.8,1165.4 182.6,1165.7 C186.4,1166.0 194.6,1165.9 198.8,1165.7 C203.1,1165.5 205.2,1165.7 208.1,1164.5 C211.0,1163.3 213.1,1161.3 216.2,1158.8 C219.3,1156.3 222.9,1152.4 226.6,1149.5 C230.2,1146.6 234.6,1145.1 238.1,1141.4 C241.6,1137.7 244.7,1132.1 247.4,1127.5 C250.1,1122.9 251.7,1118.2 254.4,1113.6 C257.1,1109.0 260.5,1105.1 263.6,1099.7 C266.7,1094.3 269.8,1087.0 272.9,1081.2 C276.0,1075.4 278.6,1069.4 282.1,1065.0 C285.6,1060.6 289.4,1057.7 293.7,1054.6 C297.9,1051.5 303.4,1047.5 307.6,1046.5 C311.9,1045.5 315.7,1047.3 319.2,1048.8 C322.7,1050.3 325.3,1053.1 328.4,1055.7 C331.5,1058.3 334.2,1062.7 337.6,1064.2 C341.0,1065.7 345.4,1063.2 348.9,1064.7 C352.3,1066.2 355.1,1069.3 358.3,1073.2 C361.5,1077.1 364.7,1083.9 367.8,1088.3 C370.9,1092.7 373.4,1096.7 377.2,1099.7 C381.0,1102.7 386.9,1103.8 390.4,1106.3 C393.9,1108.8 395.5,1110.5 398.0,1114.8 C400.5,1119.0 403.0,1126.1 405.5,1131.8 C408.0,1137.5 410.3,1144.6 413.1,1148.7 C415.9,1152.8 418.4,1155.2 422.5,1156.3 C426.6,1157.4 433.5,1156.7 437.6,1155.4 C441.7,1154.1 443.6,1151.5 447.1,1148.7 C450.6,1145.9 454.6,1141.1 458.4,1138.4 C462.2,1135.7 465.9,1133.2 469.7,1132.7 C473.5,1132.2 477.3,1133.5 481.1,1135.5 C484.9,1137.5 488.6,1142.3 492.4,1145.0 C496.2,1147.7 500.9,1150.4 503.7,1151.6 C506.5,1152.8 507.2,1152.9 509.4,1152.1 C511.6,1151.3 514.5,1149.7 516.9,1146.9 C519.2,1144.1 521.6,1139.3 523.5,1135.5 C525.4,1131.7 525.9,1125.0 528.3,1124.2 C530.7,1123.4 533.8,1128.0 537.7,1130.8 C541.6,1133.6 547.8,1140.3 551.9,1140.8 C556.0,1141.3 558.7,1137.0 562.3,1133.6 C565.9,1130.2 570.9,1124.0 573.6,1120.4 C576.3,1116.8 577.0,1117.8 578.7,1111.9 C580.5,1106.0 582.7,1084.8 584.1,1084.8 C585.5,1084.8 586.1,1105.2 587.4,1111.9 C588.7,1118.6 589.2,1122.0 591.7,1124.9 C594.2,1127.8 598.6,1128.0 602.6,1129.3 C606.6,1130.6 611.6,1130.7 615.6,1132.5 C619.6,1134.3 622.4,1137.0 626.4,1140.1 C630.4,1143.2 635.0,1147.0 639.4,1151.0 C643.8,1155.0 648.5,1159.5 652.5,1164.0 C656.5,1168.5 659.7,1174.7 663.3,1178.1 C666.9,1181.5 671.0,1184.0 674.2,1184.6 C677.5,1185.1 679.9,1182.7 682.8,1181.4 C685.7,1180.1 688.6,1177.5 691.5,1177.0 C694.4,1176.5 696.8,1177.9 700.2,1178.1 C703.6,1178.3 708.5,1179.0 712.1,1178.1 C715.7,1177.2 718.5,1174.7 721.9,1172.7 C725.3,1170.7 729.2,1169.8 732.8,1166.2 C736.4,1162.6 739.6,1157.2 743.6,1151.0 C747.6,1144.8 752.3,1137.3 756.6,1129.3 C760.9,1121.3 765.1,1110.1 769.6,1103.2 C774.1,1096.3 779.4,1089.1 783.8,1088.0 C788.1,1086.9 791.9,1093.1 795.7,1096.7 C799.5,1100.3 802.6,1103.2 806.5,1109.7 C810.4,1116.2 815.3,1128.5 818.8,1135.8 C822.3,1143.1 824.2,1146.7 827.5,1153.3 C830.8,1159.9 834.7,1169.1 838.5,1175.2 C842.3,1181.3 846.9,1187.7 850.5,1190.1 C854.1,1192.5 857.3,1190.4 860.4,1189.4 C863.5,1188.4 865.8,1185.3 869.1,1184.0 C872.4,1182.7 877.0,1181.6 880.1,1181.8 C883.2,1182.0 884.8,1181.8 887.7,1185.1 C890.6,1188.4 894.1,1196.2 897.6,1201.5 C901.1,1206.8 904.6,1213.1 908.6,1216.8 C912.6,1220.5 916.2,1221.4 921.7,1223.4 C927.2,1225.4 932.6,1226.9 941.4,1228.9 C950.2,1230.9 963.3,1233.6 974.3,1235.4 C985.2,1237.2 996.1,1238.5 1007.1,1239.8 C1018.1,1241.1 1029.0,1242.1 1040.0,1243.1 C1051.0,1244.1 1063.0,1245.0 1072.8,1245.7 C1082.6,1246.4 1094.7,1247.2 1099.1,1247.5" fill="none" stroke="#cf7529" stroke-width="2.0" stroke-linejoin="round" stroke-linecap="round"/>
<path d="M95.4,30 V1255 H1100.3" fill="none" stroke="#1a1a1a" stroke-width="2.1"/>
<line x1="95.4" y1="1255" x2="95.4" y2="1266.5" stroke="#000" stroke-width="2.2"/>
<line x1="179.1" y1="1255" x2="179.1" y2="1262.0" stroke="#000" stroke-width="2.2"/>
<line x1="262.7" y1="1255" x2="262.7" y2="1266.5" stroke="#000" stroke-width="2.2"/>
<line x1="346.4" y1="1255" x2="346.4" y2="1262.0" stroke="#000" stroke-width="2.2"/>
<line x1="430.0" y1="1255" x2="430.0" y2="1266.5" stroke="#000" stroke-width="2.2"/>
<line x1="513.7" y1="1255" x2="513.7" y2="1262.0" stroke="#000" stroke-width="2.2"/>
<line x1="597.4" y1="1255" x2="597.4" y2="1266.5" stroke="#000" stroke-width="2.2"/>
<line x1="681.0" y1="1255" x2="681.0" y2="1262.0" stroke="#000" stroke-width="2.2"/>
<line x1="764.7" y1="1255" x2="764.7" y2="1266.5" stroke="#000" stroke-width="2.2"/>
<line x1="848.3" y1="1255" x2="848.3" y2="1262.0" stroke="#000" stroke-width="2.2"/>
<line x1="932.0" y1="1255" x2="932.0" y2="1266.5" stroke="#000" stroke-width="2.2"/>
<line x1="1015.7" y1="1255" x2="1015.7" y2="1262.0" stroke="#000" stroke-width="2.2"/>
<line x1="1099.3" y1="1255" x2="1099.3" y2="1266.5" stroke="#000" stroke-width="2.2"/>
<path d="M767,1346.5 H838" stroke="#000" stroke-width="2"/>
<path d="M845,1346.5 L830,1339 L833,1346.5 L830,1354 Z" fill="#000"/>
<path d="M41.6,472 V402" stroke="#000" stroke-width="1.9"/>
<path d="M41.6,394.5 L34.1,409.3 L41.6,404 L48.9,409.3 Z" fill="#000"/>
<path d="M176.5,320.5 V348.5 M169.3,335.5 L176.5,349.5 L183.7,335.5" fill="none" stroke="#000" stroke-width="1.8" stroke-linejoin="miter"/>
<path d="M314.5,69.0 V97.0 M307.3,84.0 L314.5,98.0 L321.7,84.0" fill="none" stroke="#000" stroke-width="1.8" stroke-linejoin="miter"/>
<path d="M397.4,199.0 V226.0 M390.2,213.0 L397.4,227.0 L404.6,213.0" fill="none" stroke="#000" stroke-width="1.8" stroke-linejoin="miter"/>
<path d="M798.0,353.4 V381.3 M790.8,368.3 L798.0,382.3 L805.2,368.3" fill="none" stroke="#000" stroke-width="1.8" stroke-linejoin="miter"/>
<path d="M882.7,416.3 V445.6 M875.5,432.6 L882.7,446.6 L889.9,432.6" fill="none" stroke="#000" stroke-width="1.8" stroke-linejoin="miter"/>
<path d="M481.3,313.3 V341.8 M474.1,328.8 L481.3,342.8 L488.5,328.8" fill="none" stroke="#000" stroke-width="1.8" stroke-linejoin="miter"/>
<path d="M527.3,305.5 V334.0 M520.1,321.0 L527.3,335.0 L534.5,321.0" fill="none" stroke="#000" stroke-width="1.8" stroke-linejoin="miter"/>
<path d="M576.9,286.3 V314.3 M569.7,301.3 L576.9,315.3 L584.1,301.3" fill="none" stroke="#000" stroke-width="1.8" stroke-linejoin="miter"/>
<path d="M620.0,245.8 V277.2 M612.8,264.2 L620.0,278.2 L627.2,264.2" fill="none" stroke="#000" stroke-width="1.8" stroke-linejoin="miter"/>
<path d="M690.1,352.8 V383.8 M682.9,370.8 L690.1,384.8 L697.3,370.8" fill="none" stroke="#000" stroke-width="1.8" stroke-linejoin="miter"/>
<g id="flax">
<path d="M1232.5,694.3 C1226,680 1219,672 1218.3,662.9 C1217.5,650 1218,640 1219.5,630.9 C1221,620 1224,612 1226.9,608.8 C1230,602 1232,598 1234.3,594 C1238,586 1242,580 1244.1,574.3 C1246,568 1248,562 1247.8,557.1 C1247.6,550 1247.2,546 1246.8,541.5" fill="none" stroke="#1f5e3b" stroke-width="1.6"/>
<path d="M1218.3,662.9 Q1215.0,655.9 1207.2,650.8 Q1211.6,659.0 1218.3,662.9 Z" fill="#1f5e3b"/>
<path d="M1217.7,646.9 Q1213.9,639.5 1205.5,634.0 Q1210.5,642.7 1217.7,646.9 Z" fill="#1f5e3b"/>
<path d="M1219.5,630.9 Q1217.1,623.2 1210.0,616.6 Q1213.3,625.7 1219.5,630.9 Z" fill="#1f5e3b"/>
<path d="M1222.6,618.6 Q1223.0,611.6 1218.5,604.5 Q1218.6,612.9 1222.6,618.6 Z" fill="#1f5e3b"/>
<path d="M1228.1,603.8 Q1231.0,597.2 1229.4,588.6 Q1226.4,596.8 1228.1,603.8 Z" fill="#1f5e3b"/>
<path d="M1217.7,661.7 Q1223.3,657.5 1225.9,649.6 Q1219.5,655.0 1217.7,661.7 Z" fill="#1f5e3b"/>
<path d="M1218.3,645.7 Q1224.3,644.0 1228.6,637.8 Q1221.5,640.3 1218.3,645.7 Z" fill="#1f5e3b"/>
<path d="M1220.8,629.7 Q1226.5,629.2 1231.0,624.2 Q1224.3,625.2 1220.8,629.7 Z" fill="#1f5e3b"/>
<path d="M1223.2,617.4 Q1230.5,616.4 1237.2,610.6 Q1228.5,612.3 1223.2,617.4 Z" fill="#1f5e3b"/>
<path d="M1230.6,601.4 Q1237.3,600.7 1243.4,595.3 Q1235.4,596.6 1230.6,601.4 Z" fill="#1f5e3b"/>
<path d="M1241.5,591.5 Q1249.2,589.5 1251.2,580.5 Q1242.5,583.6 1241.5,591.5 Z" fill="#1f5e3b"/>
<path d="M1245.5,572.5 Q1245.5,566.3 1238.8,564.0 Q1239.5,571.0 1245.5,572.5 Z" fill="#1f5e3b"/>
<path d="M1246.5,571.5 Q1252.0,572.2 1254.5,566.5 Q1248.2,566.3 1246.5,571.5 Z" fill="#1f5e3b"/>
<path d="M1246.8,558.0 Q1246.9,553.6 1242.0,552.5 Q1242.4,557.5 1246.8,558.0 Z" fill="#1f5e3b"/>
<path d="M1247.5,558.0 Q1251.7,559.0 1253.5,554.5 Q1248.7,553.9 1247.5,558.0 Z" fill="#1f5e3b"/>
<path d="M1247.2,552.0 Q1249.6,546.7 1246.6,540.5 Q1244.2,547.0 1247.2,552.0 Z" fill="#1f5e3b"/>
<ellipse cx="1251.8" cy="613.9" rx="12.2" ry="10.6" transform="rotate(-118.0 1251.8 613.9)" fill="#2f8eec"/>
<ellipse cx="1266.2" cy="615.9" rx="12.2" ry="10.6" transform="rotate(-46.0 1266.2 615.9)" fill="#2f8eec"/>
<ellipse cx="1268.7" cy="630.2" rx="12.2" ry="10.6" transform="rotate(26.0 1268.7 630.2)" fill="#2f8eec"/>
<ellipse cx="1255.9" cy="637.1" rx="12.2" ry="10.6" transform="rotate(98.0 1255.9 637.1)" fill="#2f8eec"/>
<ellipse cx="1245.4" cy="627.0" rx="12.2" ry="10.6" transform="rotate(170.0 1245.4 627.0)" fill="#2f8eec"/>
<circle cx="1257.6" cy="624.8" r="9" fill="#2f8eec"/>
<line x1="1258.4" y1="619.5" x2="1260.4" y2="605.6" stroke="#7fbdf5" stroke-width="0.9"/>
<line x1="1263.5" y1="624.4" x2="1277.3" y2="621.9" stroke="#7fbdf5" stroke-width="0.9"/>
<line x1="1260.4" y1="630.7" x2="1267.0" y2="643.1" stroke="#7fbdf5" stroke-width="0.9"/>
<line x1="1253.4" y1="629.7" x2="1243.7" y2="639.8" stroke="#7fbdf5" stroke-width="0.9"/>
<line x1="1252.2" y1="622.8" x2="1239.6" y2="616.6" stroke="#7fbdf5" stroke-width="0.9"/>
<circle cx="1257.0" cy="625.6" r="3.6" fill="#d5ece2"/>
</g>
<g id="abutilon">
<path d="M1157.6,851 C1156.5,840 1155.5,825 1156.5,805 C1158,795 1166,786 1178,782 C1188,779.5 1196,785 1200.8,796.6 C1206,792 1214,792.5 1220,798 C1226,804 1227.5,816 1225,828 C1222,838 1212,845 1198,847.5 C1184,850 1168,850 1157.6,851 Z" fill="#86cf80" stroke="#66b066" stroke-width="1"/>
<path d="M1200.8,796.6 C1192,805 1175,825 1158,850 M1190,806 C1180,805 1170,808 1160,813 M1180,818 C1185,830 1186,840 1186,849 M1196,802 C1205,815 1210,828 1212,842 M1172,830 C1165,832 1160,836 1157,840" fill="none" stroke="#5aa55a" stroke-width="1"/>
<path d="M1200.8,796.6 L1212,785" stroke="#8aa88a" stroke-width="1"/>
<circle cx="1247" cy="769" r="11" fill="#ffcc2a"/>
<ellipse cx="1240.2" cy="754.5" rx="11.8" ry="11.4" transform="rotate(-115.0 1240.2 754.5)" fill="#ffc823" stroke="#f4b81e" stroke-width="0.8"/>
<ellipse cx="1258.7" cy="758.1" rx="11.8" ry="11.4" transform="rotate(-43.0 1258.7 758.1)" fill="#ffc823" stroke="#f4b81e" stroke-width="0.8"/>
<ellipse cx="1261.0" cy="776.8" rx="11.8" ry="11.4" transform="rotate(29.0 1261.0 776.8)" fill="#ffc823" stroke="#f4b81e" stroke-width="0.8"/>
<ellipse cx="1243.9" cy="784.7" rx="11.8" ry="11.4" transform="rotate(101.0 1243.9 784.7)" fill="#ffc823" stroke="#f4b81e" stroke-width="0.8"/>
<ellipse cx="1231.1" cy="770.9" rx="11.8" ry="11.4" transform="rotate(173.0 1231.1 770.9)" fill="#ffc823" stroke="#f4b81e" stroke-width="0.8"/>
<circle cx="1247" cy="769" r="6" fill="#f4dc48"/>
<path d="M1247,769 L1238,760 M1247,769 L1257,761 M1247,769 L1254,779 M1247,769 L1240,778 M1247,769 L1235,770" stroke="#e8f08a" stroke-width="1.2"/>
<line x1="1255" y1="748" x2="1254" y2="740" stroke="#6cae6c" stroke-width="1.4"/>
<line x1="1269" y1="771" x2="1278" y2="772" stroke="#6cae6c" stroke-width="1.4"/>
<line x1="1252" y1="790" x2="1253" y2="797" stroke="#6cae6c" stroke-width="1.4"/>
<line x1="1229" y1="784" x2="1223" y2="790" stroke="#6cae6c" stroke-width="1.4"/>
<line x1="1226" y1="757" x2="1218" y2="756" stroke="#6cae6c" stroke-width="1.4"/>
</g>
<g id="cannabis">
<path d="M1268.3,885 C1268,905 1271,930 1276.5,950 C1282,968 1288,982 1294,992" fill="none" stroke="#5cb043" stroke-width="4.4" stroke-linecap="round"/>
<path d="M1268.3,887 C1268,905 1271,930 1276.5,950 C1282,968 1288,982 1293,990" fill="none" stroke="#7cc462" stroke-width="1.2"/>
<path d="M1233.9,933.9 L1268.5,930.7" stroke="#6a9a5a" stroke-width="1.6"/>
<path d="M1233.9,933.9 Q1205.9,909.3 1169.7,900.5 Q1197.7,925.1 1233.9,933.9 Z" fill="#5cb043" stroke="#3e8c30" stroke-width="0.8"/>
<line x1="1233.9" y1="933.9" x2="1169.7" y2="900.5" stroke="#3e8c30" stroke-width="0.8"/>
<path d="M1233.9,933.9 Q1185.9,932.7 1141.4,950.6 Q1189.4,951.8 1233.9,933.9 Z" fill="#5cb043" stroke="#3e8c30" stroke-width="0.8"/>
<line x1="1233.9" y1="933.9" x2="1141.4" y2="950.6" stroke="#3e8c30" stroke-width="0.8"/>
<path d="M1233.9,933.9 Q1193.7,953.9 1164.5,987.9 Q1204.7,967.9 1233.9,933.9 Z" fill="#5cb043" stroke="#3e8c30" stroke-width="0.8"/>
<line x1="1233.9" y1="933.9" x2="1164.5" y2="987.9" stroke="#3e8c30" stroke-width="0.8"/>
<path d="M1233.9,933.9 Q1235.0,914.3 1224.2,898.0 Q1223.1,917.6 1233.9,933.9 Z" fill="#5cb043" stroke="#3e8c30" stroke-width="0.8"/>
<line x1="1233.9" y1="933.9" x2="1224.2" y2="898.0" stroke="#3e8c30" stroke-width="0.8"/>
<path d="M1233.9,933.9 Q1231.7,953.8 1241.6,971.2 Q1243.8,951.3 1233.9,933.9 Z" fill="#5cb043" stroke="#3e8c30" stroke-width="0.8"/>
<line x1="1233.9" y1="933.9" x2="1241.6" y2="971.2" stroke="#3e8c30" stroke-width="0.8"/>
<path d="M1263.0,926.0 Q1262.3,911.2 1251.5,897.0 Q1253.3,914.7 1263.0,926.0 Z" fill="#5cb043" stroke="#3e8c30" stroke-width="0.6"/>
<path d="M1263.0,926.0 Q1257.7,914.7 1244.0,909.0 Q1251.2,922.0 1263.0,926.0 Z" fill="#5cb043" stroke="#3e8c30" stroke-width="0.6"/>
<ellipse cx="1258.5" cy="918" rx="5" ry="7" transform="rotate(-30 1258.5 918)" fill="#6cc050" stroke="#3e8c30" stroke-width="0.6"/>
<path d="M1263.0,926.0 Q1266.2,915.5 1260.0,904.0 Q1257.1,916.7 1263.0,926.0 Z" fill="#78c85a" stroke="#3e8c30" stroke-width="0.6"/>
</g>
<g id="corchorus">
<path d="M1200.2,1150 L1202,1145 L1203.2,1152 L1203.8,1251.5 L1199.4,1251.5 L1199.2,1152 Z" fill="#6b4a22"/>
<path d="M1204,1210 C1208,1200 1212,1190 1216.6,1181" fill="none" stroke="#3d7a2a" stroke-width="1.8"/>
<path d="M1203,1209 L1210,1206 L1220.5,1201.5 L1211,1208 Z" fill="#4e8a34"/>
<path d="M1197,1204 L1204,1209" stroke="#4e8a34" stroke-width="1.5"/>
<path d="M1216.6,1181 C1211,1181 1207,1180 1206.2,1179.9 C1206,1172 1206.5,1168 1207.4,1164.8 C1209,1152 1211,1142 1215.5,1134.7 C1219,1128 1223,1125 1228.2,1122 C1234,1118 1238,1116 1242.1,1113.9 C1248,1111 1253,1110 1256.8,1108.5 C1256,1114 1255.5,1118 1254.8,1123.2 C1254,1131 1253,1138 1251.4,1144 C1249,1152 1247,1159 1243.3,1164.8 C1239,1170 1236,1173 1231.7,1176.4 C1228,1179 1224,1181 1221.3,1184.5 L1220,1188 Z" fill="#4f9434" stroke="#3f8a2c" stroke-width="0.8"/>
<path d="M1218,1182 C1228,1160 1242,1135 1256,1110" fill="none" stroke="#63aa48" stroke-width="1.0"/>
<path d="M1222,1172 L1212,1168 M1228,1160 L1214,1150 M1234,1148 L1222,1134 M1240,1136 L1232,1122 M1230,1164 L1244,1160 M1237,1150 L1250,1142 M1244,1136 L1253,1128" fill="none" stroke="#63aa48" stroke-width="0.8"/>
<ellipse cx="1251.0" cy="1185.0" rx="13.6" ry="11.2" transform="rotate(-120.0 1251.0 1185.0)" fill="#f4ee2a" stroke="#e8e224" stroke-width="0.8"/>
<ellipse cx="1268.5" cy="1186.9" rx="13.6" ry="11.2" transform="rotate(-48.0 1268.5 1186.9)" fill="#f4ee2a" stroke="#e8e224" stroke-width="0.8"/>
<ellipse cx="1272.2" cy="1204.1" rx="13.6" ry="11.2" transform="rotate(24.0 1272.2 1204.1)" fill="#f4ee2a" stroke="#e8e224" stroke-width="0.8"/>
<ellipse cx="1256.9" cy="1212.9" rx="13.6" ry="11.2" transform="rotate(96.0 1256.9 1212.9)" fill="#f4ee2a" stroke="#e8e224" stroke-width="0.8"/>
<ellipse cx="1243.8" cy="1201.1" rx="13.6" ry="11.2" transform="rotate(168.0 1243.8 1201.1)" fill="#f4ee2a" stroke="#e8e224" stroke-width="0.8"/>
<circle cx="1258.5" cy="1198" r="6.5" fill="#f2f05a"/>
<circle cx="1258.5" cy="1198" r="2.5" fill="#f8f8d0"/>
<path d="M1261,1180 L1261,1176" stroke="#b8b070" stroke-width="2"/>
</g>
<g opacity="0.999">
<text x="95.4" y="1298" font-size="30.5" text-anchor="middle" fill="#000">800</text>
<text x="262.7" y="1298" font-size="30.5" text-anchor="middle" fill="#000">1000</text>
<text x="430.0" y="1298" font-size="30.5" text-anchor="middle" fill="#000">1200</text>
<text x="597.4" y="1298" font-size="30.5" text-anchor="middle" fill="#000">1400</text>
<text x="764.7" y="1298" font-size="30.5" text-anchor="middle" fill="#000">1600</text>
<text x="932.0" y="1298" font-size="30.5" text-anchor="middle" fill="#000">1800</text>
<text x="1099.3" y="1298" font-size="30.5" text-anchor="middle" fill="#000">2000</text>
<text x="446" y="1356" font-size="34" fill="#000">Wavenumber (cm<tspan font-size="22.5" dx="4" dy="-14">−1</tspan><tspan dx="2.5" dy="14">)</tspan></text>
<text transform="translate(52.3,765.5) rotate(-90)" font-size="34.2" fill="#000">FT-IR absorbance</text>
<text x="176.5" y="301.5" font-size="28" text-anchor="middle" fill="#000">897</text>
<text x="316.3" y="57.5" font-size="28" text-anchor="middle" fill="#000">1059</text>
<text x="405.5" y="188.5" font-size="28" text-anchor="middle" fill="#000">1160</text>
<text x="797.5" y="340.5" font-size="28" text-anchor="middle" fill="#000">1639</text>
<text x="887.2" y="406.0" font-size="28" text-anchor="middle" fill="#000">1739</text>
<text transform="translate(492.8,305.0) rotate(-90)" font-size="28" fill="#000">1262</text>
<text transform="translate(537.1,298.1) rotate(-90)" font-size="28" fill="#000">1318</text>
<text transform="translate(584.2,282.1) rotate(-90)" font-size="28" fill="#000">1374</text>
<text transform="translate(628.8,241.5) rotate(-90)" font-size="28" fill="#000">1428</text>
<text transform="translate(698.0,350.2) rotate(-90)" font-size="28" fill="#000">1508</text>
<text transform="translate(945.0,465.8) scale(1.051,1)" font-size="27.2" fill="#000">standard (cellulose)</text>
<text transform="translate(939.0,614.5) scale(1.051,1)" font-size="27.2" font-style="italic" fill="#000">Linum usitatissimum</text>
<text transform="translate(938.6,649.8) scale(1.051,1)" font-size="27.2" fill="#000">'Domnesti'</text>
<text transform="translate(939.0,752.0) scale(1.051,1)" font-size="27.2" font-style="italic" fill="#000">Abutilon theophrasti</text>
<text transform="translate(928.7,957.9) scale(1.051,1)" font-size="27.2" font-style="italic" fill="#000">Cannabis sativa</text>
<text x="1109.2" y="1009.0" font-size="28.6" fill="#000">'Succesiv'</text>
<text x="1109.2" y="1039.0" font-size="28.6" fill="#000">'Zenit'</text>
<text transform="translate(943.8,1138.7) scale(1.051,1)" font-size="27.2" font-style="italic" fill="#000">Corchorus olitorius</text>
<text x="1108.4" y="1187.9" font-size="28.6" fill="#000">SZTE</text>
<text x="1108.0" y="1220.5" font-size="28.6" fill="#000">NTM</text>
<text x="1109.4" y="1250.6" font-size="28.6" fill="#000">GZU</text>
</g>
</svg>
</body></html>
